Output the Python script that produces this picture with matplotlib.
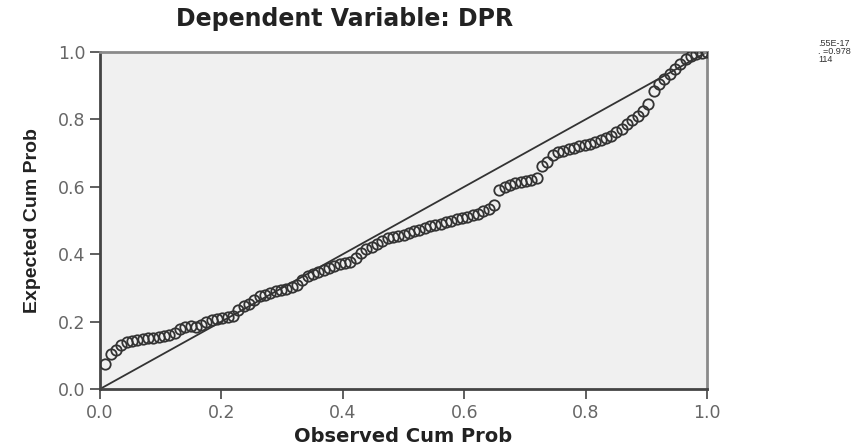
import numpy as np
import matplotlib
matplotlib.use("Agg")
import matplotlib.pyplot as plt

title = "Dependent Variable: DPR"
x_label = "Observed Cum Prob"
y_label = "Expected Cum Prob"
tick_values = [0.0, 0.2, 0.4, 0.6, 0.8, 1.0]
tick_labels = ["0.0", "0.2", "0.4", "0.6", "0.8", "1.0"]
side_text = [".55E-17", ". =0.978", "114"]

expected_cum_prob = [
    0.075, 0.105, 0.115, 0.130, 0.140, 0.143, 0.145, 0.148, 0.150, 0.152,
    0.155, 0.158, 0.160, 0.165, 0.178, 0.185, 0.187, 0.185, 0.190, 0.200,
    0.205, 0.208, 0.210, 0.215, 0.218, 0.235, 0.245, 0.252, 0.265, 0.275,
    0.280, 0.285, 0.290, 0.295, 0.298, 0.302, 0.310, 0.322, 0.335, 0.342,
    0.348, 0.352, 0.358, 0.365, 0.370, 0.375, 0.378, 0.390, 0.405, 0.415,
    0.422, 0.430, 0.440, 0.447, 0.450, 0.453, 0.457, 0.462, 0.468, 0.473,
    0.478, 0.483, 0.487, 0.490, 0.495, 0.499, 0.503, 0.507, 0.511, 0.515,
    0.520, 0.528, 0.535, 0.545, 0.590, 0.600, 0.605, 0.610, 0.613, 0.617,
    0.620, 0.625, 0.662, 0.675, 0.695, 0.703, 0.707, 0.712, 0.716, 0.720,
    0.725, 0.728, 0.733, 0.740, 0.745, 0.752, 0.762, 0.772, 0.785, 0.797,
    0.810, 0.825, 0.845, 0.885, 0.905, 0.920, 0.935, 0.950, 0.965, 0.978,
    0.988, 0.993, 0.997, 0.999,
]
n = len(expected_cum_prob)
observed_cum_prob = np.arange(1, n + 1) / n

fig = plt.figure(figsize=(8.63, 4.45), dpi=100)
ax = fig.add_axes([100 / 863, 56 / 445, 607 / 863, 337 / 445])
ax.set_facecolor("#f0f0f0")

ax.plot([0, 1], [0, 1], color="#333333", lw=1.3, zorder=2)
ax.plot(observed_cum_prob, expected_cum_prob, linestyle="none", marker="o",
        markersize=7.5, markerfacecolor="none", markeredgecolor="#333333",
        markeredgewidth=1.3, zorder=3)

ax.set_xlim(0, 1)
ax.set_ylim(0, 1)
ax.set_xticks(tick_values)
ax.set_xticklabels(tick_labels)
ax.set_yticks(tick_values)
ax.set_yticklabels(tick_labels)
ax.tick_params(direction="out", length=7, width=1.2, color="#444444",
               labelcolor="#666666", labelsize=12.5)
for lab in ax.get_xticklabels() + ax.get_yticklabels():
    lab.set_family("DejaVu Sans")

for side in ["left", "bottom"]:
    ax.spines[side].set_color("#444444")
    ax.spines[side].set_linewidth(2)
for side in ["top", "right"]:
    ax.spines[side].set_color("#8a8a8a")
    ax.spines[side].set_linewidth(2)

ax.set_xlabel(x_label, fontsize=14, fontweight="bold", family="DejaVu Sans",
              color="#222222", labelpad=4)
ax.set_ylabel(y_label, fontsize=14, fontweight="bold", family="Liberation Sans",
              color="#222222", labelpad=12)

fig.text(345 / 863, 1 - 19 / 445, title, ha="center", va="center",
         fontsize=17, fontweight="bold", family="DejaVu Sans", color="#222222")

for i, t in enumerate(side_text):
    fig.text(818 / 863, 1 - (43 + 8 * i) / 445, t, ha="left", va="center",
             fontsize=6.5, family="Liberation Sans", color="#333333")

fig.savefig("out.png", dpi=100)
